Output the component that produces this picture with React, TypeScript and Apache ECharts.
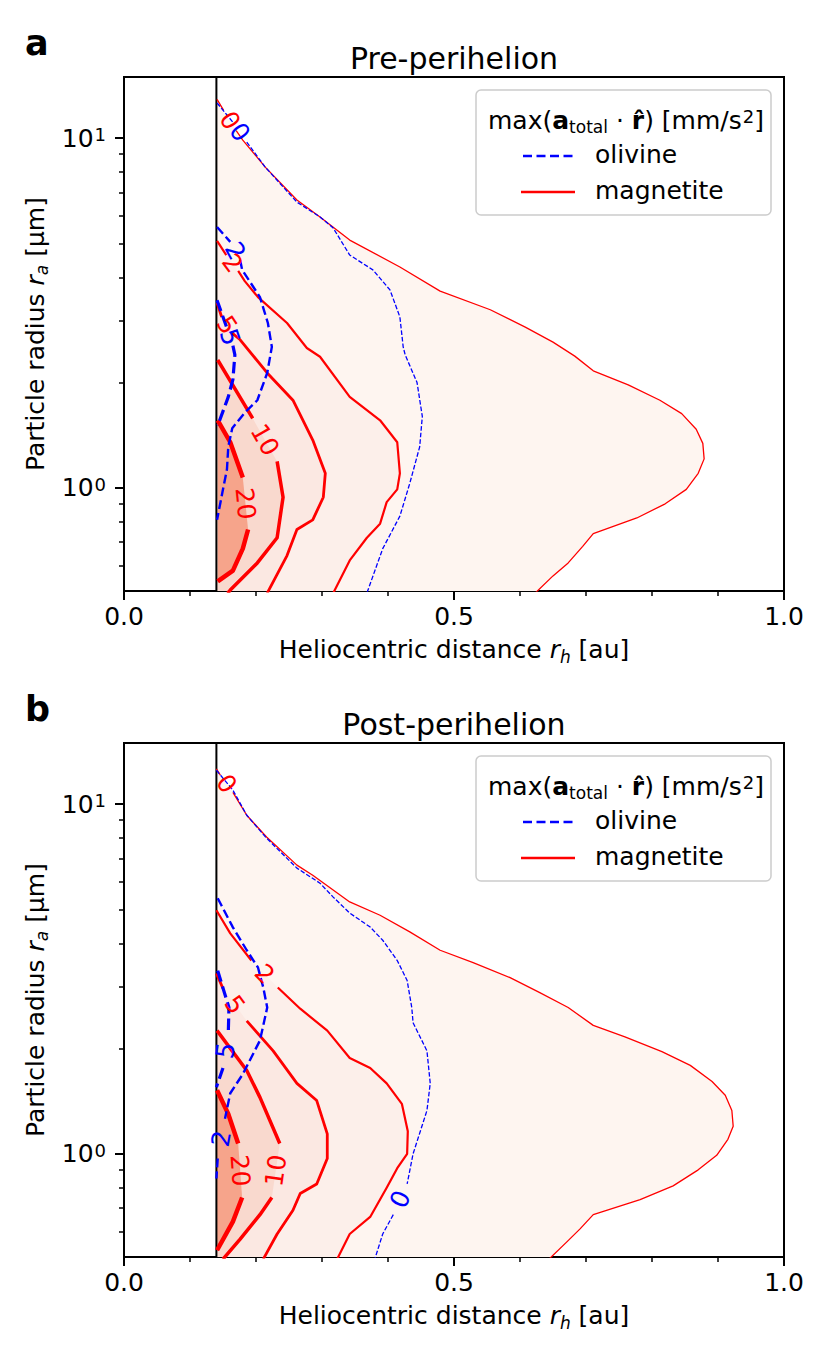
import React, { useEffect, useRef } from "react";
import * as echarts from "echarts";

type Pt = [number, number] | null;

// ---------- axes ----------
const X_LINE = 0.14; // perihelion distance [au]
const R_MIN = 0.507;
const R_MAX = 14.95;
const Y_MAJOR_R = [1, 10];
const Y_MINOR_R = [0.6, 0.7, 0.8, 0.9, 2, 3, 4, 5, 6, 7, 8, 9];
const LEVELS = [0, 2, 5, 10, 20];
const TITLES = ["Pre-perihelion", "Post-perihelion"];
const LETTERS = ["a", "b"];

// ---------- pre-perihelion contours: [heliocentric distance au, radius µm]; null = label gap ----------
const preMag0: Pt[] = [[0.141, 12.9], [0.151, 12.0], null, [0.17, 10.5], [0.18, 9.87], [0.214, 8.26], [0.262, 6.65], [0.297, 5.95], [0.342, 5.11], [0.418, 4.28], [0.479, 3.65], [0.555, 3.23], [0.608, 2.88], [0.65, 2.61], [0.683, 2.38], [0.711, 2.16], [0.764, 1.97], [0.812, 1.78], [0.845, 1.63], [0.867, 1.47], [0.877, 1.34], [0.879, 1.21], [0.87, 1.1], [0.852, 0.99], [0.82, 0.9], [0.777, 0.82], [0.711, 0.74], [0.695, 0.68], [0.673, 0.61], [0.65, 0.56], [0.623, 0.5]];
const preMag2: Pt[] = [[0.141, 5.08], [0.155, 4.63], null, [0.173, 4.17], [0.183, 3.9], [0.203, 3.51], [0.247, 2.96], [0.277, 2.51], [0.297, 2.37], [0.342, 1.82], [0.388, 1.56], [0.414, 1.35], [0.418, 1.1], [0.414, 0.99], [0.398, 0.91], [0.388, 0.79], [0.368, 0.72], [0.342, 0.62], [0.317, 0.5]];
const preMag5: Pt[] = [[0.141, 3.38], [0.148, 3.08], null, [0.164, 2.77], [0.176, 2.65], [0.217, 2.13], [0.256, 1.78], [0.286, 1.37], [0.305, 1.1], [0.302, 0.94], [0.286, 0.81], [0.262, 0.76], [0.247, 0.64], [0.217, 0.5]];
const preMag10: Pt[] = [[0.142, 2.32], [0.195, 1.58], null, [0.232, 1.19], [0.241, 0.94], [0.232, 0.72], [0.202, 0.61], [0.161, 0.51], [0.157, 0.5]];
const preMag20: Pt[] = [[0.142, 1.56], [0.161, 1.35], [0.18, 1.07], null, [0.188, 0.76], [0.18, 0.67], [0.165, 0.58], [0.142, 0.54]];
const preOli0: Pt[] = [[0.141, 12.6], [0.165, 11.1], null, [0.186, 9.74], [0.214, 8.26], [0.262, 6.56], [0.297, 5.95], [0.317, 5.53], [0.342, 4.63], [0.377, 4.2], [0.403, 3.68], [0.418, 3.08], [0.423, 2.53], [0.426, 2.4], [0.444, 2.0], [0.452, 1.6], [0.448, 1.31], [0.433, 1.03], [0.418, 0.83], [0.392, 0.67], [0.368, 0.5]];
const preOli2: Pt[] = [[0.141, 5.57], [0.161, 5.05], null, [0.176, 4.48], [0.179, 4.2], [0.206, 3.51], [0.218, 2.96], [0.224, 2.53], [0.217, 2.13], [0.202, 1.78], [0.183, 1.64], [0.164, 1.48], [0.158, 1.31], [0.156, 1.13], [0.15, 0.99], [0.141, 0.81]];
const preOli5: Pt[] = [[0.141, 3.44], [0.156, 2.86], null, [0.165, 2.55], [0.168, 2.4], [0.165, 2.04], [0.158, 1.82], [0.145, 1.56], [0.141, 1.51]];

// ---------- post-perihelion contours ----------
const postMag0: Pt[] = [[0.14, 12.6], [0.146, 12.1], null, [0.165, 10.8], [0.186, 9.29], [0.216, 8.05], [0.262, 6.69], [0.286, 6.26], [0.342, 5.25], [0.388, 4.81], [0.433, 4.31], [0.479, 3.82], [0.529, 3.52], [0.585, 3.19], [0.63, 2.89], [0.673, 2.62], [0.711, 2.33], [0.759, 2.16], [0.815, 1.96], [0.858, 1.79], [0.891, 1.61], [0.911, 1.47], [0.921, 1.33], [0.923, 1.2], [0.915, 1.1], [0.898, 0.99], [0.87, 0.9], [0.832, 0.81], [0.782, 0.74], [0.711, 0.67], [0.691, 0.61], [0.671, 0.56], [0.644, 0.5]];
const postMag2: Pt[] = [[0.14, 4.97], [0.161, 4.27], [0.193, 3.57], null, [0.233, 2.99], [0.267, 2.6], [0.308, 2.25], [0.342, 1.88], [0.373, 1.76], [0.398, 1.59], [0.421, 1.39], [0.43, 1.16], [0.429, 1.0], [0.414, 0.91], [0.398, 0.8], [0.373, 0.66], [0.342, 0.59], [0.323, 0.5]];
const postMag5: Pt[] = [[0.14, 3.28], [0.15, 2.97], null, [0.186, 2.4], [0.226, 1.97], [0.262, 1.59], [0.292, 1.42], [0.308, 1.14], [0.308, 0.97], [0.292, 0.82], [0.267, 0.77], [0.256, 0.69], [0.232, 0.59], [0.211, 0.5]];
const postMag10: Pt[] = [[0.141, 2.25], [0.186, 1.73], [0.206, 1.45], [0.236, 1.07], null, [0.224, 0.75], [0.206, 0.67], [0.176, 0.57], [0.15, 0.5]];
const postMag20: Pt[] = [[0.141, 1.52], [0.158, 1.3], [0.173, 1.07], null, [0.179, 0.75], [0.165, 0.64], [0.141, 0.53]];
const postOli0: Pt[] = [[0.14, 12.5], [0.165, 10.96], [0.186, 9.29], [0.216, 7.99], [0.262, 6.56], [0.297, 5.94], [0.317, 5.42], [0.342, 4.88], [0.373, 4.45], [0.392, 4.08], [0.414, 3.57], [0.429, 3.13], [0.436, 2.62], [0.438, 2.37], [0.459, 1.97], [0.464, 1.59], [0.459, 1.33], [0.438, 1.0], [0.429, 0.82], null, [0.408, 0.67], [0.392, 0.59], [0.38, 0.5]];
const postOli2: Pt[] = [[0.142, 5.38], [0.165, 4.44], [0.186, 3.82], [0.203, 3.41], [0.211, 2.99], [0.217, 2.62], [0.206, 2.11], [0.18, 1.69], [0.161, 1.49], [0.153, 1.26], null, [0.142, 0.97], [0.14, 0.85]];
const postOli5: Pt[] = [[0.142, 3.34], [0.159, 2.62], [0.158, 2.21], null, [0.15, 1.76], [0.14, 1.55]];

// ---------- styles ----------
const FONT = "DejaVu Sans";
const RED = "#ff0000";
const BLUE = "#0000ff";
const FILL = ["#fef5f0", "#fcefea", "#fbe8e2", "#f9d9ce", "#f6a48b"];
const MAG_W = [1.3, 2.2, 2.8, 3.5, 4.5];
const OLI_W = [1.3, 2.4, 3.2];
const OLI_DASH = [[4.6, 2], [9, 4], [11.5, 5]];
const GRID_TOPS = [77, 743];
const GRID_LEFT = 124;
const GRID_W = 660;
const GRID_H = 514;

interface Contour { pts: Pt[]; level: number; kind: "mag" | "oli" }

const PANELS: { mag: Contour[]; oli: Contour[] }[] = [
  {
    mag: [preMag0, preMag2, preMag5, preMag10, preMag20].map((pts, k) => ({ pts, level: LEVELS[k], kind: "mag" as const })),
    oli: [preOli0, preOli2, preOli5].map((pts, k) => ({ pts, level: LEVELS[k], kind: "oli" as const })),
  },
  {
    mag: [postMag0, postMag2, postMag5, postMag10, postMag20].map((pts, k) => ({ pts, level: LEVELS[k], kind: "mag" as const })),
    oli: [postOli0, postOli2, postOli5].map((pts, k) => ({ pts, level: LEVELS[k], kind: "oli" as const })),
  },
];

const lg = (r: number) => Math.log10(r);
const toXY = (p: Pt) => (p ? [p[0], lg(p[1])] : ["-", "-"]);

const richBase = (size: number) => {
  const n = { fontSize: size, fontFamily: FONT, lineHeight: 25, verticalAlign: "top", color: "#000" };
  const small = { fontSize: 17, fontFamily: FONT, lineHeight: 18, verticalAlign: "top", color: "#000" };
  return {
    n,
    b: { ...n, fontWeight: "bold" },
    i: { ...n, fontStyle: "italic" },
    s: { ...small, padding: [11, 0, 0, 0] },
    si: { ...small, fontStyle: "italic", padding: [11, 0, 0, 0] },
    p: { ...small, fontSize: 18, padding: [0, 0, 0, 1] },
  };
};

function buildOption() {
  const grid: any[] = [];
  const xAxis: any[] = [];
  const yAxis: any[] = [];
  const series: any[] = [];
  const graphic: any[] = [];

  PANELS.forEach((panel, i) => {
    const gt = GRID_TOPS[i];
    grid.push({ left: GRID_LEFT, top: gt, width: GRID_W, height: GRID_H, show: true, borderColor: "#000", borderWidth: 2, backgroundColor: "transparent" });
    xAxis.push({
      type: "value", gridIndex: i, min: 0, max: 1, interval: 0.5,
      axisLine: { show: true, onZero: false, lineStyle: { color: "#000", width: 2 } },
      axisTick: { show: true, length: 9, lineStyle: { color: "#000", width: 2 } },
      minorTick: { show: true, splitNumber: 5, length: 5, lineStyle: { color: "#000", width: 1.5 } },
      splitLine: { show: false },
      axisLabel: { color: "#000", fontFamily: FONT, fontSize: 25, lineHeight: 25, margin: 13, formatter: (v: number) => v.toFixed(1) },
      name: "{n|Heliocentric distance }{i|r}{si|h}{n| [au]}",
      nameLocation: "middle",
      nameGap: 46,
      nameTextStyle: { color: "#000", fontFamily: FONT, fontSize: 25, rich: richBase(25) },
    });
    yAxis.push({
      type: "value", gridIndex: i, min: lg(R_MIN), max: lg(R_MAX), position: "left",
      axisLine: { show: true, onZero: false, lineStyle: { color: "#000", width: 2 } },
      axisTick: { show: true, length: 9, customValues: Y_MAJOR_R.map(lg), lineStyle: { color: "#000", width: 2 } },
      splitLine: { show: false },
      axisLabel: {
        customValues: Y_MAJOR_R.map(lg), margin: 18, color: "#000",
        formatter: (v: number) => `{n|10}{p|${Math.round(v)}}`,
        rich: richBase(25),
      },
      name: "{n|Particle radius }{i|r}{si|a}{n| [µm]}",
      nameLocation: "middle",
      nameGap: 60,
      nameTextStyle: { color: "#000", fontFamily: FONT, fontSize: 25, rich: richBase(25) },
    });
    yAxis.push({
      type: "value", gridIndex: i, min: lg(R_MIN), max: lg(R_MAX), position: "left",
      axisLine: { show: false },
      axisTick: { show: true, length: 5, customValues: Y_MINOR_R.map(lg), lineStyle: { color: "#000", width: 1.5 } },
      axisLabel: { show: false },
      splitLine: { show: false },
    });

    const xi = i;
    const yi = 2 * i;

    // filled regions (magnetite)
    series.push({
      type: "custom", name: "fill", xAxisIndex: xi, yAxisIndex: yi, clip: true, silent: true, z: 1,
      data: panel.mag.map((_, k) => [X_LINE, 0, k]),
      encode: { x: 0, y: 1 },
      renderItem: (params: any, api: any) => {
        const c = panel.mag[params.dataIndex];
        const pts = c.pts.filter((p) => p) as [number, number][];
        const poly = pts.map((p) => api.coord([p[0], lg(p[1])]));
        const last = pts[pts.length - 1];
        if (last[1] <= 0.51) poly.push(api.coord([X_LINE, lg(last[1])]));
        return { type: "polygon", shape: { points: poly }, style: { fill: FILL[LEVELS.indexOf(c.level)], stroke: "none" } };
      },
    });

    // perihelion line
    series.push({
      type: "line", name: "perihelion", xAxisIndex: xi, yAxisIndex: yi, silent: true, z: 2,
      symbol: "none", data: [[X_LINE, lg(R_MIN)], [X_LINE, lg(R_MAX)]],
      lineStyle: { color: "#000", width: 2 },
    });

    // contour lines
    panel.mag.forEach((c, k) => {
      series.push({
        type: "line", name: "magnetite", xAxisIndex: xi, yAxisIndex: yi, silent: true, z: 3,
        symbol: "none", showSymbol: false, connectNulls: false, clip: true,
        data: c.pts.map(toXY),
        lineStyle: { color: RED, width: MAG_W[k], type: "solid", cap: "butt", join: "round" },
      });
    });
    panel.oli.forEach((c, k) => {
      series.push({
        type: "line", name: "olivine", xAxisIndex: xi, yAxisIndex: yi, silent: true, z: 4,
        symbol: "none", showSymbol: false, connectNulls: false, clip: true,
        data: c.pts.map(toXY),
        lineStyle: { color: BLUE, width: OLI_W[k], type: OLI_DASH[k], cap: "butt", join: "round" },
      });
    });

    // inline contour labels (placed in the gaps)
    const labels: { a: [number, number]; b: [number, number]; text: string; color: string }[] = [];
    [...panel.mag, ...panel.oli].forEach((c) => {
      const g = c.pts.indexOf(null);
      if (g > 0) labels.push({ a: c.pts[g - 1] as [number, number], b: c.pts[g + 1] as [number, number], text: String(c.level), color: c.kind === "mag" ? RED : BLUE });
    });
    series.push({
      type: "custom", name: "labels", xAxisIndex: xi, yAxisIndex: yi, clip: false, silent: true, z: 5,
      data: labels.map((l, k) => [l.a[0], lg(l.a[1]), k]),
      encode: { x: 0, y: 1 },
      renderItem: (params: any, api: any) => {
        const l = labels[params.dataIndex];
        const A = api.coord([l.a[0], lg(l.a[1])]);
        const B = api.coord([l.b[0], lg(l.b[1])]);
        let dx = B[0] - A[0];
        let dy = B[1] - A[1];
        if (dx < 0) { dx = -dx; dy = -dy; }
        return {
          type: "text", x: (A[0] + B[0]) / 2, y: (A[1] + B[1]) / 2, rotation: Math.atan2(-dy, dx),
          style: { text: l.text, fill: l.color, fontSize: 25, fontFamily: FONT, align: "center", verticalAlign: "middle", textAlign: "center", textVerticalAlign: "middle" },
        };
      },
    });

    // panel letter & title
    graphic.push({ type: "text", x: 25, y: gt - 34, style: { text: LETTERS[i], fontSize: 35, fontWeight: "bold", fontFamily: FONT, fill: "#000", align: "left", verticalAlign: "middle" } });
    graphic.push({ type: "text", x: GRID_LEFT + GRID_W / 2, y: gt - 19, style: { text: TITLES[i], fontSize: 30, fontFamily: FONT, fill: "#000", align: "center", verticalAlign: "middle" } });

    // legend
    graphic.push({ type: "rect", shape: { x: 476, y: gt + 13, width: 295, height: 125, r: 5 }, style: { fill: "rgba(255,255,255,0.8)", stroke: "#cccccc", lineWidth: 1.5 }, z: 10 });
    graphic.push({
      type: "text", x: 488, y: gt + 43, z: 11,
      style: { text: "{n|max(}{b|a}{s|total}{n| · }{b|r\u0302}{n|) [mm/s}{p|2}{n|]}", rich: richBase(25), fill: "#000", align: "left", verticalAlign: "middle" },
    });
    graphic.push({ type: "line", shape: { x1: 523, y1: gt + 79, x2: 574, y2: gt + 79 }, style: { stroke: BLUE, lineWidth: 2.5, lineDash: [9, 4.5] }, z: 11 });
    graphic.push({ type: "text", x: 595, y: gt + 77, z: 11, style: { text: "olivine", fontSize: 25, fontFamily: FONT, fill: "#000", align: "left", verticalAlign: "middle" } });
    graphic.push({ type: "line", shape: { x1: 521, y1: gt + 115, x2: 575, y2: gt + 115 }, style: { stroke: RED, lineWidth: 2.5 }, z: 11 });
    graphic.push({ type: "text", x: 595, y: gt + 113, z: 11, style: { text: "magnetite", fontSize: 25, fontFamily: FONT, fill: "#000", align: "left", verticalAlign: "middle" } });
  });

  return { animation: false, backgroundColor: "#ffffff", grid, xAxis, yAxis, series, graphic };
}

export default function App() {
  const ref = useRef<HTMLDivElement>(null);
  useEffect(() => {
    if (!ref.current) return;
    const chart = echarts.init(ref.current, null, { renderer: "svg" });
    chart.setOption(buildOption() as any);
    return () => chart.dispose();
  }, []);
  return <div ref={ref} style={{ position: "absolute", left: 0, top: 0, width: 830, height: 1359 }} />;
}
